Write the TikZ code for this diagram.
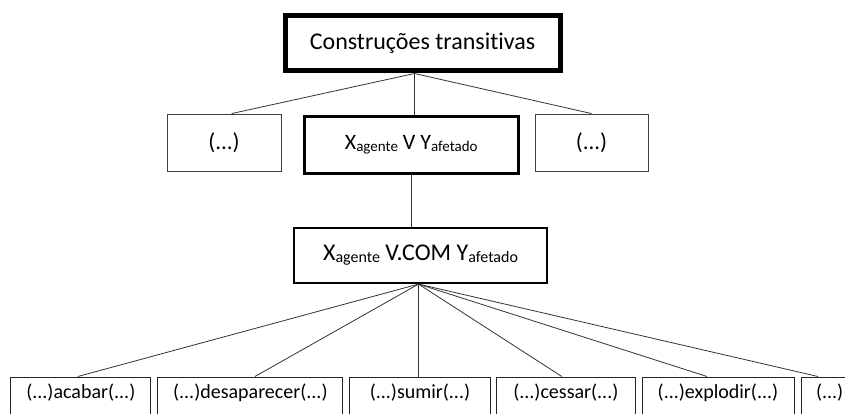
\documentclass[tikz,border=0pt]{standalone}
\usepackage{fontspec}
\setmainfont{Carlito}[Ligatures=NoCommon]
\newcommand\wsb[2]{\raisebox{-2pt}{\fontsize{#1}{#1}\selectfont #2}}
\begin{document}
\begin{tikzpicture}[x=1pt,y=-1pt,
  box/.style={draw, rectangle, inner sep=0pt, align=center},
  thick box/.style={box, line width=5pt},
  mid box/.style={box, line width=3pt},
  plain box/.style={box, line width=0.9pt, draw=black!75},
  leaf/.style={box, line width=0.9pt, draw=black!85, anchor=north, text height=22pt, text depth=40pt, font=\fontsize{20}{24}\selectfont},
  link/.style={line width=0.8pt, draw=black!80}]
\useasboundingbox (0,0) rectangle (845,414);
\clip (0,0) rectangle (845,414);
% top
\node[thick box, minimum width=275pt, minimum height=55.5pt, font=\fontsize{24}{28}\selectfont] (top) at (422.5,43.25) {Construções transitivas};
% middle row
\node[plain box, minimum width=114pt, minimum height=57pt, font=\fontsize{23}{26}\selectfont] (ml) at (224,142.5) {(...)};
\node[mid box, minimum width=214.5pt, minimum height=57pt, font=\fontsize{22}{26}\selectfont] (mc) at (411.25,145) {X\wsb{15}{agente} V Y\wsb{15}{afetado}};
\node[plain box, minimum width=113pt, minimum height=57pt, font=\fontsize{23}{26}\selectfont] (mr) at (591.5,142.5) {(...)};
% V.COM
\node[box, line width=2.2pt, minimum width=253pt, minimum height=55pt, font=\fontsize{24}{28}\selectfont] (vc) at (420.5,255.5) {X\wsb{16}{agente} V.COM Y\wsb{16}{afetado}};
% leaves
\node[leaf, minimum width=140pt] (b1) at (80.85,376.5) {(...)acabar(...)};
\node[leaf, minimum width=185pt] (b2) at (250.35,376.5) {(...)desaparecer(...)};
\node[leaf, minimum width=141.5pt] (b3) at (420,376.5) {(...)sumir(...)};
\node[leaf, minimum width=138.5pt] (b4) at (565.85,376.5) {(...)cessar(...)};
\node[leaf, minimum width=152pt] (b5) at (718,376.5) {(...)explodir(...)};
\node[leaf, minimum width=100pt, text width=86pt, align=left] (b6) at (851,376.5) {\hspace*{8pt}(...)};
% connectors
\coordinate (ta) at ([xshift=-8pt]top.south);
\draw[link] (ta) -- ([xshift=7.7pt]ml.north);
\draw[link] (ta) -- (ta |- mc.north);
\draw[link] (ta) -- (mr.north);
\draw[link] (mc.south) -- (mc.south |- vc.north);
\coordinate (va) at ([xshift=-2pt]vc.south);
\draw[link] (va) -- ([xshift=-3pt]b1.north);
\draw[link] (va) -- ([xshift=4.6pt]b2.north);
\draw[link] (va) -- (va |- b3.north);
\draw[link] (va) -- ([xshift=-4pt]b4.north);
\draw[link] (va) -- ([xshift=-11pt]b5.north);
\draw[link] (va) -- ([xshift=-33pt]b6.north);
\end{tikzpicture}
\end{document}
